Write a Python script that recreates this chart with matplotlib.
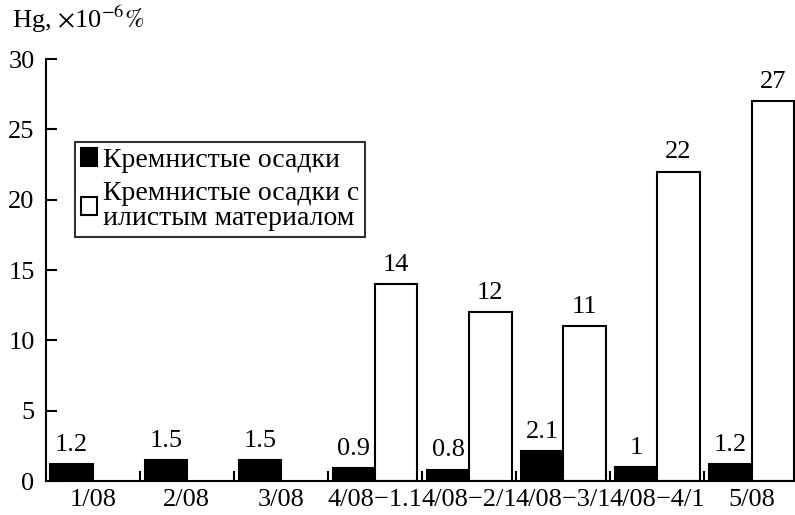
import matplotlib.pyplot as plt
import numpy as np
from matplotlib.ticker import FixedLocator

plt.rcParams['font.family'] = ['Liberation Serif', 'DejaVu Serif']
plt.rcParams['mathtext.fontset'] = 'stix'

# data
stations = ['1/08', '2/08', '3/08', '4/08\u22121.1', '4/08\u22122/1', '4/08\u22123/1', '4/08\u22124/1', '5/08']
siliceous = [1.2, 1.5, 1.5, 0.9, 0.8, 2.1, 1.0, 1.2]
silty = [np.nan, np.nan, np.nan, 14, 12, 11, 22, 27]
siliceous_lbl = ['1.2', '1.5', '1.5', '0.9', '0.8', '2.1', '1', '1.2']
silty_lbl = ['', '', '', '14', '12', '11', '22', '27']

fig = plt.figure(figsize=(7.95, 5.15), dpi=100)
ax = fig.add_axes([0.0575, 0.066, 0.947, 0.8194])

x = np.arange(len(stations))
w = 0.45
b1 = ax.bar(x - w/2, siliceous, width=w, color='black', edgecolor='black', linewidth=1.5,
            label='Кремнистые осадки')
b2 = ax.bar(x + w/2, silty, width=w, color='white', edgecolor='black', linewidth=1.5,
            label='Кремнистые осадки с\nилистым материалом')

ax.bar_label(b1, labels=siliceous_lbl, padding=6, fontsize=19)
ax.bar_label(b2, labels=silty_lbl, padding=6, fontsize=19)

ax.set_xlim(-0.5, 7.5)
ax.set_ylim(0, 30)
ax.set_yticks([0, 5, 10, 15, 20, 25, 30])
ax.set_xticks(x)
ax.set_xticklabels(stations, fontsize=19)
ax.xaxis.set_minor_locator(FixedLocator(np.arange(0.5, 7, 1)))
ax.tick_params(axis='x', which='major', length=0, pad=6)
ax.tick_params(axis='x', which='minor', direction='in', length=7, width=1.5)
ax.tick_params(axis='y', direction='in', length=8, width=1.5, labelsize=19, pad=8)

for s in ['top', 'right']:
    ax.spines[s].set_visible(False)
for s in ['left', 'bottom']:
    ax.spines[s].set_linewidth(1.5)

leg = ax.legend(loc='upper left', bbox_to_anchor=(0.039, 0.803), fontsize=20, frameon=True,
                fancybox=False, edgecolor='black', handlelength=0.6, handleheight=0.6,
                handletextpad=0.2, borderpad=0.2, labelspacing=0.3, borderaxespad=0)
leg.get_frame().set_linewidth(1.5)
for t in leg.get_texts():
    t.set_linespacing(1.0)

fig.text(0.015, 0.945, r'Hg, $\times$10$^{-6}$$\mathit{\%}$', fontsize=19)

plt.savefig('out.png', dpi=100)
